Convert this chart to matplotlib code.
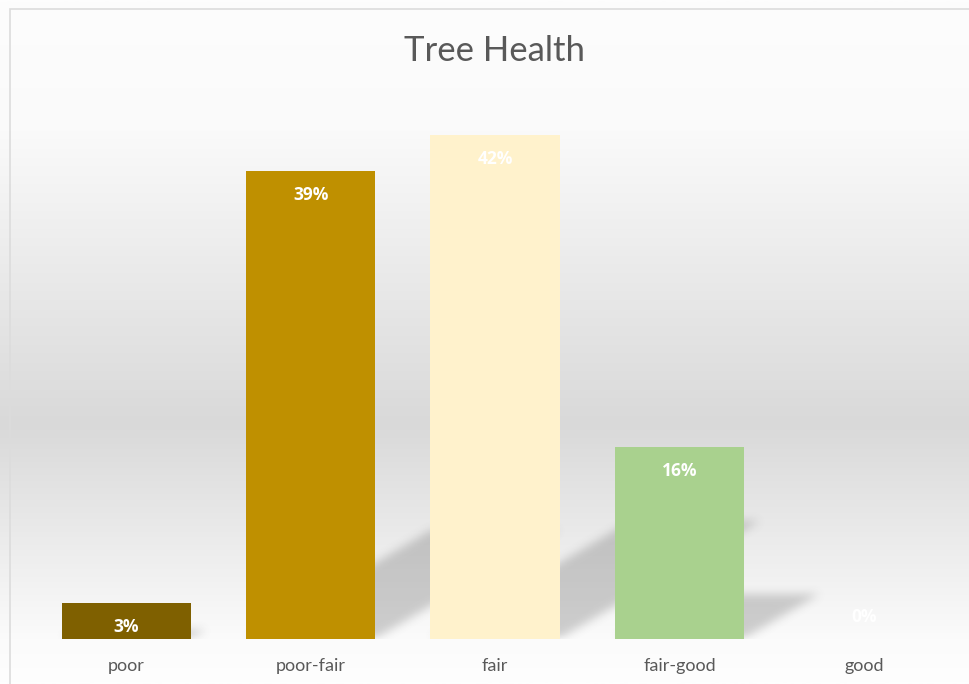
import numpy as np
import matplotlib
matplotlib.use("Agg")
import matplotlib.pyplot as plt
from matplotlib.colors import LinearSegmentedColormap
from matplotlib.patches import Rectangle

# ---- data ----
categories = ["poor", "poor-fair", "fair", "fair-good", "good"]
values = [3, 39, 42, 16, 0]
labels = ["3%", "39%", "42%", "16%", "0%"]
bar_colors = ["#7F6000", "#BF9000", "#FFF2CC", "#A9D18E", "#A9D18E"]
title = "Tree Health"

W, H, DPI = 969, 684, 100
fig = plt.figure(figsize=(W / DPI, H / DPI), dpi=DPI)
plt.rcParams['font.family'] = ['Lato', 'DejaVu Sans']

# ---- background gradient over whole figure ----
bg = fig.add_axes([0, 0, 1, 1], zorder=-10)
bg.set_axis_off()
stops = [(0.0, "#fdfdfd"), (130 / H, "#fafafa"), (425 / H, "#d9d9d9"),
         (640 / H, "#fbfbfb"), (1.0, "#fefefe")]
cmap = LinearSegmentedColormap.from_list("bgg", stops)
grad = np.linspace(0, 1, 512).reshape(-1, 1)
bg.imshow(grad, aspect="auto", cmap=cmap, extent=(0, 1, 0, 1), origin="upper")
bg.set_xlim(0, 1)
bg.set_ylim(0, 1)
# chart border
bg.add_patch(Rectangle((9.5 / W, -0.01), 1.0, 1 - 8.5 / H + 0.01, fill=False,
                       edgecolor="#dcdcdc", linewidth=1.2))

# ---- main axes ----
left, right, bottom = 34 / W, 956 / W, (H - 639) / H
ymax = 45
top = (H - (639 - ymax * 12)) / H
ax = fig.add_axes([left, bottom, right - left, top - bottom])
ax.set_facecolor("none")
ax.set_xlim(-0.5, len(categories) - 0.5)
ax.set_ylim(0, ymax)
for s in ax.spines.values():
    s.set_visible(False)
ax.set_yticks([])
ax.set_xticks(range(len(categories)))
ax.set_xticklabels(categories, fontsize=13, color="#595959")
ax.tick_params(axis="x", length=0, pad=14)

bw = 0.7
x = np.arange(len(categories))

# ---- perspective shadows (computed from the bar values) ----
nx, ny = 922, 540
gx = np.linspace(-0.5, len(categories) - 0.5, nx)
gy = np.linspace(0, ymax, ny)
GX, GY = np.meshgrid(gx, gy)
mask = np.zeros_like(GX)
for xi, v in zip(x, values):
    if v <= 0:
        continue
    sh_top = 0.233 * v
    sh_shift = 0.0258 * v
    frac = GY / sh_top
    inside = (GY <= sh_top) & (GX >= xi - bw / 2 + frac * sh_shift) & (GX <= xi + bw / 2 + frac * sh_shift)
    mask = np.maximum(mask, inside.astype(float))

def blur(a, r, axis):
    k = np.ones(2 * r + 1) / (2 * r + 1)
    return np.apply_along_axis(lambda m: np.convolve(m, k, mode="same"), axis, a)

for _ in range(3):
    mask = blur(mask, 4, 0)
    mask = blur(mask, 4, 1)

rgba = np.zeros((ny, nx, 4))
rgba[..., :3] = 0.35
rgba[..., 3] = mask * 0.28
ax.imshow(rgba, extent=(-0.5, len(categories) - 0.5, 0, ymax), origin="lower",
          aspect="auto", zorder=1, interpolation="bilinear")

# ---- bars ----
bars = ax.bar(x, values, width=bw, color=bar_colors, zorder=2)
for xi, v, lab in zip(x, values, labels):
    off = -17 if v > 0 else 16
    ax.annotate(lab, (xi, v), xytext=(0, off), textcoords="offset points",
                ha="center", va="center", color="white", fontsize=12.5,
                fontweight="bold", family=["Open Sans", "DejaVu Sans"], zorder=3)

fig.text(495 / W, 1 - 51 / H, title, ha="center", va="center",
         fontsize=25, color="#595959")

fig.savefig("out.png", dpi=DPI)
